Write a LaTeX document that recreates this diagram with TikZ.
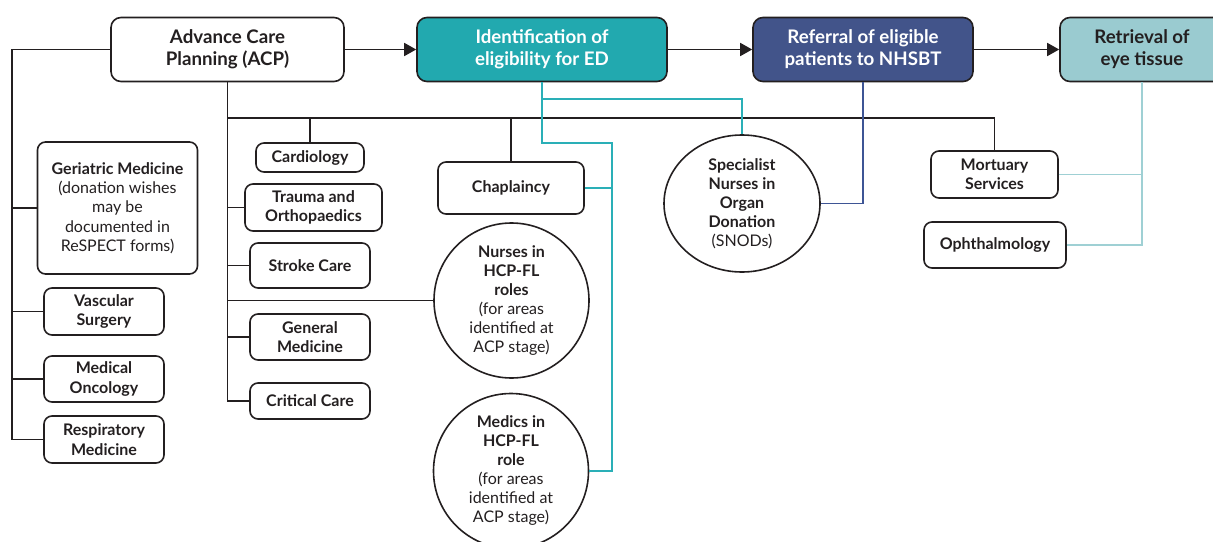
\documentclass[tikz,border=0pt]{standalone}
\usepackage{fontspec}
\setmainfont{Lato}
\usetikzlibrary{arrows.meta,shapes.geometric}
\definecolor{tealbox}{HTML}{22A9AF}
\definecolor{navybox}{HTML}{42548A}
\definecolor{lightbox}{HTML}{9ACBD0}
\definecolor{tealline}{HTML}{2AAFB7}
\definecolor{navyline}{HTML}{3E5595}
\definecolor{lightline}{HTML}{9FD0D4}
\definecolor{ink}{HTML}{231F20}
\tikzset{
  base/.style={draw=ink, line width=1.6pt, inner sep=0pt, align=center, text=ink},
  headbox/.style={base, rounded corners=10pt, minimum height=64pt,
    font=\fontsize{18.7}{22}\selectfont\bfseries},
  subbox/.style={base, rounded corners=8pt,
    font=\fontsize{16}{19.3}\selectfont},
  roundnode/.style={base, circle, minimum size=155pt,
    font=\fontsize{16}{19}\selectfont},
  ovalnode/.style={base, ellipse, minimum width=156pt, minimum height=137pt,
    font=\fontsize{16}{19}\selectfont},
  link/.style={draw=ink, line width=1.6pt},
  flow/.style={link, -{Triangle[length=12pt,width=13pt]}},
  tlink/.style={draw=tealline, line width=1.6pt},
  nlink/.style={draw=navyline, line width=1.6pt},
  llink/.style={draw=lightline, line width=1.6pt},
}
\begin{document}
\begin{tikzpicture}[x=1pt,y=-1pt]
\useasboundingbox (0,0) rectangle (1213,541);
\clip (0,0) rectangle (1213,541);

% header boxes
\node[headbox, minimum width=233pt] (acp) at (227.5,49.5) {Advance Care\\Planning (ACP)};
\node[headbox, minimum width=250pt, fill=tealbox, text=white] (ident) at (542,49.5) {Identification of\\eligibility for ED};
\node[headbox, minimum width=220pt, fill=navybox, text=white] (ref) at (863,49.5) {Referral of eligible\\patients to NHSBT};
\node[headbox, minimum width=164pt, fill=lightbox] (retr) at (1142,49.5) {Retrieval of\\eye tissue};

\draw[flow] (acp.east) -- (ident.west);
\draw[flow] (ident.east) -- (ref.west);
\draw[flow] (ref.east) -- (retr.west);

% left column
\tikzset{midbox/.style={subbox, font=\fontsize{16}{19.3}\selectfont\bfseries}}
\node[subbox, minimum width=160pt, minimum height=132pt] (ger) at (117.5,208) {\textbf{Geriatric Medicine}\\(donation wishes\\may be\\documented in\\ReSPECT forms)};
\node[midbox, minimum width=120pt, minimum height=47pt] (vasc) at (104,311.5) {Vascular\\Surgery};
\node[midbox, minimum width=120pt, minimum height=46pt] (onc) at (104,379) {Medical\\Oncology};
\node[midbox, minimum width=120pt, minimum height=47pt] (resp) at (104,439.5) {Respiratory\\Medicine};

\coordinate (Lx) at (12,0);
\draw[link] (acp.west) -| (resp.west -| Lx) -- (resp.west);
\draw[link] (ger.west) -- (ger.west -| Lx);
\draw[link] (vasc.west) -- (vasc.west -| Lx);
\draw[link] (onc.west) -- (onc.west -| Lx);

% middle column
\node[midbox, minimum width=108pt, minimum height=29pt] (card) at (310,157.5) {Cardiology};
\node[midbox, minimum width=137pt, minimum height=47pt] (trauma) at (313.5,207.5) {Trauma and\\Orthopaedics};
\node[midbox, minimum width=120pt, minimum height=45pt] (stroke) at (310,265.5) {Stroke Care};
\node[midbox, minimum width=120pt, minimum height=46pt] (genmed) at (310,337) {General\\Medicine};
\node[midbox, minimum width=120pt, minimum height=36pt] (crit) at (310,401) {Critical Care};

\node[midbox, minimum width=146pt, minimum height=52pt] (chap) at (511,188) {Chaplaincy};
\node[roundnode] (nurse) at (511.5,300.5) {\textbf{Nurses in}\\\textbf{HCP-FL}\\\textbf{roles}\\(for areas\\identified at\\ACP stage)};
\node[roundnode] (medic) at (511,471) {\textbf{Medics in}\\\textbf{HCP-FL}\\\textbf{role}\\(for areas\\identified at\\ACP stage)};

\node[ovalnode] (snod) at (742,203.5) {\textbf{Specialist}\\\textbf{Nurses in}\\\textbf{Organ}\\\textbf{Donation}\\(SNODs)};

\node[midbox, minimum width=127pt, minimum height=47pt] (mort) at (994.5,174.5) {Mortuary\\Services};
\node[midbox, minimum width=142pt, minimum height=46pt] (oph) at (995,245) {Ophthalmology};

% black tree from ACP
\coordinate (H) at (0,118);
\draw[link] (acp.south) |- (crit.west);
\draw[link] (acp.south |- H) -| (mort.north);
\draw[link] (card.north) -- (card.north |- H);
\draw[link] (chap.north) -- (chap.north |- H);
\draw[link] (trauma.west) -- (trauma.west -| acp.south);
\draw[link] (stroke.west) -- (stroke.west -| acp.south);
\draw[link] (genmed.west) -- (genmed.west -| acp.south);
\draw[link] (nurse.west) -- (nurse.west -| acp.south);

% teal tree from identification
\coordinate (tk) at (612,143);
\coordinate (tb) at (0,99);
\draw[tlink] (ident.south) |- (tk) |- (medic.east);
\draw[tlink] (chap.east) -- (chap.east -| tk);
\draw[tlink] (ident.south |- tb) -| (snod.north);

% navy link
\draw[nlink] (ref.south) |- (snod.east);

% light teal links
\draw[llink] (retr.south) |- (oph.east);
\draw[llink] (mort.east) -- (mort.east -| retr.south);
\end{tikzpicture}
\end{document}
